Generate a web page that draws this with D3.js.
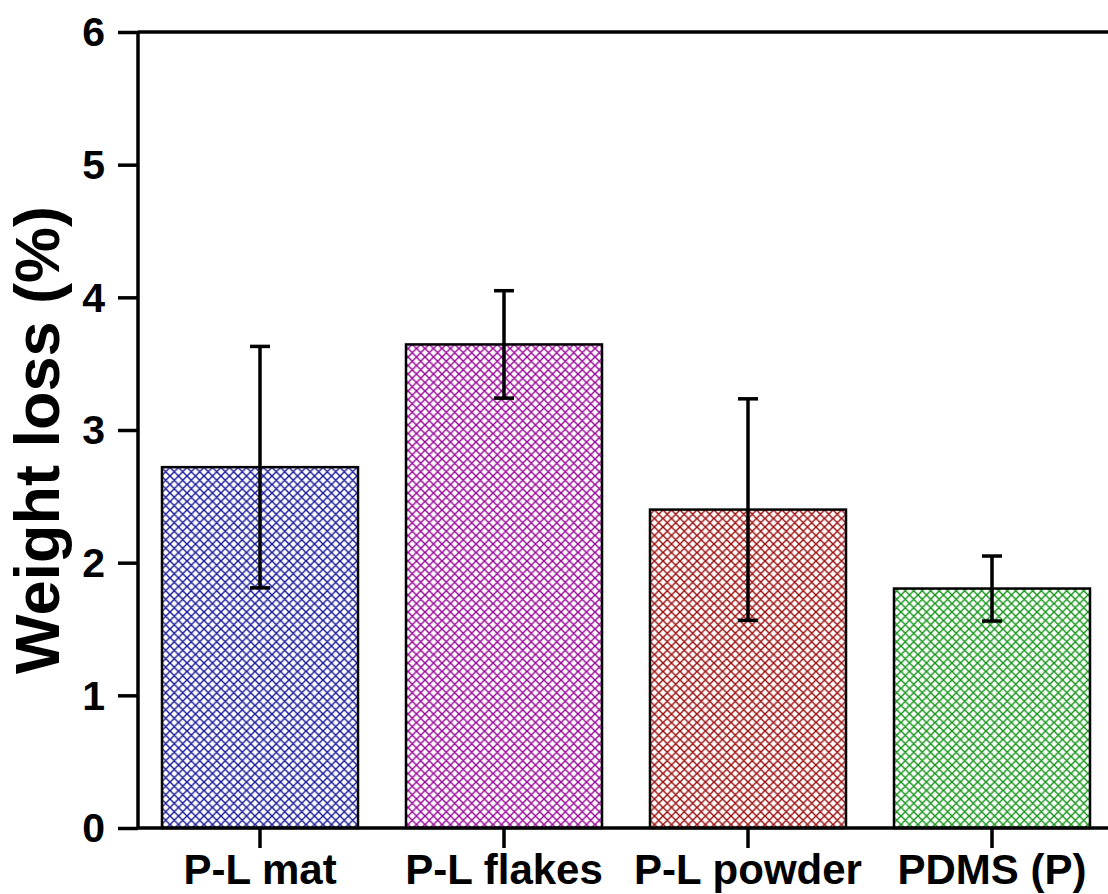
<!DOCTYPE html>
<html>
<head>
<meta charset="utf-8">
<script src="https://cdn.jsdelivr.net/npm/d3@7"></script>
<style>
  html, body { margin: 0; padding: 0; background: #fff; overflow: hidden; }
  svg { display: block; }
  text { font-family: "Liberation Sans", Arial, sans-serif; font-weight: bold; fill: #000; }
</style>
</head>
<body>
<svg id="chart" width="1108" height="894"></svg>
<script>
// Weight loss of each sample type, mean and standard deviation (%)
const categories = ["P-L mat", "P-L flakes", "P-L powder", "PDMS (P)"];
const meanLoss   = [2.72, 3.645, 2.40, 1.805];
const errLoss    = [0.91, 0.405, 0.835, 0.245];
const barColors  = ["#1c1c9c", "#9a0a9a", "#9c1010", "#18961c"];
const yTicks     = [0, 1, 2, 3, 4, 5, 6];
const yLabel     = "Weight loss (%)";

const svg = d3.select("#chart");
const margin = { left: 138, top: 32 };
const plotW = 976, plotH = 796;

const x = d3.scaleBand()
  .domain(categories)
  .range([margin.left, margin.left + plotW])
  .paddingInner(0.1967)
  .paddingOuter(0.1967 / 2);

const y = d3.scaleLinear()
  .domain([0, 6])
  .range([margin.top + plotH, margin.top]);

// Crosshatch fill patterns, one per bar colour
const T = 8.5;
const defs = svg.append("defs");
barColors.forEach((c, i) => {
  const p = defs.append("pattern")
    .attr("id", "hatch" + i)
    .attr("patternUnits", "userSpaceOnUse")
    .attr("width", T).attr("height", T);
  p.append("rect").attr("width", T).attr("height", T).attr("fill", "#fff");
  p.append("path")
    .attr("d", `M-2,2 L2,-2 M0,${T} L${T},0 M${T - 2},${T + 2} L${T + 2},${T - 2} ` +
               `M-2,${T - 2} L2,${T + 2} M0,0 L${T},${T} M${T - 2},-2 L${T + 2},2`)
    .attr("stroke", c)
    .attr("stroke-width", 1.5)
    .attr("fill", "none");
});

// Bars
svg.append("g").selectAll("rect")
  .data(categories)
  .join("rect")
  .attr("x", d => x(d))
  .attr("y", (d, i) => y(meanLoss[i]))
  .attr("width", x.bandwidth())
  .attr("height", (d, i) => y(0) - y(meanLoss[i]))
  .attr("fill", (d, i) => `url(#hatch${i})`)
  .attr("stroke", "#000")
  .attr("stroke-width", 2.5);

// Error bars
const capW = 20;
const eb = svg.append("g")
  .attr("stroke", "#000")
  .attr("stroke-width", 3.5)
  .attr("fill", "none");
categories.forEach((c, i) => {
  const cx = x(c) + x.bandwidth() / 2;
  const hi = y(meanLoss[i] + errLoss[i]);
  const lo = y(meanLoss[i] - errLoss[i]);
  eb.append("line").attr("x1", cx).attr("x2", cx).attr("y1", hi).attr("y2", lo);
  eb.append("line").attr("x1", cx - capW / 2).attr("x2", cx + capW / 2).attr("y1", hi).attr("y2", hi);
  eb.append("line").attr("x1", cx - capW / 2).attr("x2", cx + capW / 2).attr("y1", lo).attr("y2", lo);
});

// Y axis with outward ticks
const yAxis = svg.append("g")
  .attr("transform", `translate(${margin.left},0)`)
  .call(d3.axisLeft(y).tickValues(yTicks).tickFormat(d3.format("d")).tickSize(20).tickPadding(13));
yAxis.select(".domain").attr("stroke-width", 3.5).attr("d", `M0,${y(6)}V${y(0)}`);
yAxis.selectAll(".tick line").attr("stroke-width", 3.5);
yAxis.selectAll("text").style("font-size", "41px").attr("dy", "0.34em");

// X axis
const xAxis = svg.append("g")
  .attr("transform", `translate(0,${y(0)})`)
  .call(d3.axisBottom(x).tickSize(20).tickPadding(6));
xAxis.select(".domain").attr("stroke-width", 3.5)
  .attr("d", `M${margin.left},0H${margin.left + plotW}`);
xAxis.selectAll(".tick line").attr("stroke-width", 3.5);
xAxis.selectAll("text").style("font-size", "42px");

// Top frame line
svg.append("line")
  .attr("x1", margin.left).attr("x2", margin.left + plotW)
  .attr("y1", y(6)).attr("y2", y(6))
  .attr("stroke", "#000").attr("stroke-width", 3.5);

// Y axis title
svg.append("text")
  .attr("transform", `translate(59,${440}) rotate(-90)`)
  .attr("text-anchor", "middle")
  .style("font-size", "63px")
  .text(yLabel);
</script>
</body>
</html>
